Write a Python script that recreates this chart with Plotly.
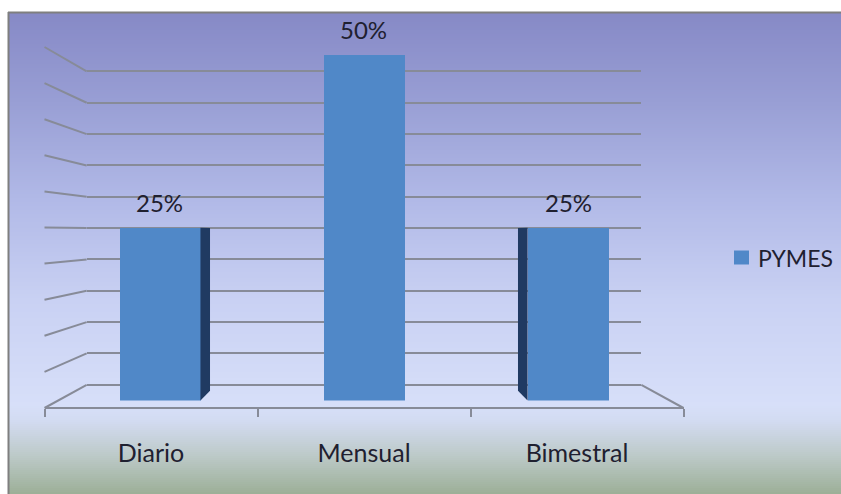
import plotly.graph_objects as go

# ---- data ----
categories = ["Diario", "Mensual", "Bimestral"]
pymes = [0.25, 0.50, 0.25]
wall_ticks = [0.0, 0.05, 0.10, 0.15, 0.20, 0.25, 0.30, 0.35, 0.40, 0.45, 0.50]
series_name = "PYMES"

# ---- canvas and simple perspective model ----
W, H = 841, 494
CX, VY = 364.0, 232.0        # vanishing point (px)
FLOOR = 176.0                # front floor edge below the horizon (px)
K = 722.0                    # px per unit value on the front plane
SLOT = 213.0                 # px per category on the front plane
S_FRONT, S_BACK = 1.0, 0.868 # depth scales of front edge and back wall
S_BAR_F, S_BAR_B = 0.958, 0.902
BAR_W = 0.397                # bar width in category units
Y_MAX = 0.5
PAD = 0.01                   # keeps the end gridlines inside the wall axis

FONT = "Lato"
TEXT = "#1f2030"
GRID = "#878b98"
BAR = "#5088c8"
BAR_SIDE = "#203a62"


def proj(X, v, s):
    """World point (horizontal offset X, value v, depth scale s) -> pixel."""
    return CX + s * X, VY + s * (FLOOR - K * v)


def px(x):
    return x / W


def py(y):
    return 1 - y / H


half = 1.5 * SLOT

# ---- gradient background ----
stops = [
    (12, (0x86, 0x89, 0xC6)),
    (100, (0x98, 0x9E, 0xD4)),
    (200, (0xB1, 0xB9, 0xE7)),
    (300, (0xC9, 0xD1, 0xF3)),
    (405, (0xD7, 0xDF, 0xF9)),
    (422, (0xD2, 0xDB, 0xF0)),
    (455, (0xBD, 0xCA, 0xC9)),
    (494, (0x9C, 0xAF, 0x97)),
]


def grad(y):
    for (y0, c0), (y1, c1) in zip(stops[:-1], stops[1:]):
        if y0 <= y <= y1:
            t = (y - y0) / (y1 - y0)
            return "rgb(%d,%d,%d)" % tuple(round(a + (b - a) * t) for a, b in zip(c0, c1))
    return "rgb(%d,%d,%d)" % stops[-1][1]


shapes = []
band = 2
y = 12
while y < H:
    shapes.append(dict(type="rect", xref="paper", yref="paper", layer="below",
                       x0=px(8), x1=1, y0=py(min(y + band, H)), y1=py(y),
                       fillcolor=grad(y + band / 2), line=dict(width=0)))
    y += band

# frame
shapes.append(dict(type="line", xref="paper", yref="paper", layer="below",
                   x0=px(8), x1=1, y0=py(12.5), y1=py(12.5),
                   line=dict(color="#7f7f7f", width=2)))
shapes.append(dict(type="line", xref="paper", yref="paper", layer="below",
                   x0=px(8.5), x1=px(8.5), y0=py(12), y1=0,
                   line=dict(color="#7f7f7f", width=2)))

# side wall lines, one per wall tick
for v in wall_ticks:
    xa, ya = proj(-half, v, S_FRONT)
    xb, yb = proj(-half, v, S_BACK)
    shapes.append(dict(type="line", xref="paper", yref="paper", layer="below",
                       x0=px(xa), y0=py(ya), x1=px(xb), y1=py(yb),
                       line=dict(color=GRID, width=2)))

# right edge of the floor
xa, ya = proj(half, 0, S_FRONT)
xb, yb = proj(half, 0, S_BACK)
shapes.append(dict(type="line", xref="paper", yref="paper", layer="below",
                   x0=px(xa), y0=py(ya), x1=px(xb), y1=py(yb),
                   line=dict(color=GRID, width=2)))

# visible side faces of the columns
for i, v in enumerate(pymes):
    Xc = (i - 1) * SLOT
    if Xc == 0:
        continue
    Xe = Xc + (BAR_W / 2) * SLOT * (1 if Xc < 0 else -1)
    pts = [proj(Xe, 0, S_BAR_F), proj(Xe, v, S_BAR_F),
           proj(Xe, v, S_BAR_B), proj(Xe, 0, S_BAR_B)]
    path = "M " + " L ".join("%.5f,%.5f" % (px(a), py(b)) for a, b in pts) + " Z"
    shapes.append(dict(type="path", xref="paper", yref="paper", layer="above",
                       path=path, fillcolor=BAR_SIDE, line=dict(width=0)))

# legend key
shapes.append(dict(type="rect", xref="paper", yref="paper", layer="above",
                   x0=px(734), x1=px(749), y0=py(264.5), y1=py(250.5),
                   fillcolor=BAR, line=dict(width=0)))

# ---- axis domains from the projection ----
back_x0, back_y0 = proj(-half, -PAD, S_BACK)
back_x1, back_y1 = proj(half, Y_MAX + PAD, S_BACK)
bar_x0, bar_y0 = proj(-half, 0, S_BAR_F)
bar_x1, bar_y1 = proj(half, Y_MAX, S_BAR_F)
fr_x0, fr_y0 = proj(-half, 0, S_FRONT)
fr_x1, _ = proj(half, 0, S_FRONT)

fig = go.Figure()

# back wall (gridlines only)
fig.add_trace(go.Scatter(x=[0], y=[0], xaxis="x", yaxis="y", mode="markers",
                         marker=dict(opacity=0), hoverinfo="skip", showlegend=False))
# columns
fig.add_trace(go.Bar(x=list(range(len(categories))), y=pymes, name=series_name,
                     xaxis="x2", yaxis="y2", width=BAR_W,
                     marker=dict(color=BAR, line=dict(width=0)),
                     hoverinfo="skip", showlegend=False))
# category axis on the front edge of the floor
fig.add_trace(go.Scatter(x=categories, y=[0] * len(categories), xaxis="x3", yaxis="y2",
                         mode="markers", marker=dict(opacity=0),
                         hoverinfo="skip", showlegend=False))

annotations = []
for i, v in enumerate(pymes):
    annotations.append(dict(x=i, y=v, xref="x2", yref="y2", text=f"{v:.0%}",
                            showarrow=False, yanchor="middle", yshift=25,
                            font=dict(family=FONT, size=24, color=TEXT)))
annotations.append(dict(x=px(756), y=py(257.5), xref="paper", yref="paper",
                        text=series_name, showarrow=False,
                        xanchor="left", yanchor="middle",
                        font=dict(family=FONT, size=23, color=TEXT)))

hidden = dict(showgrid=False, zeroline=False, showticklabels=False,
              showline=False, ticks="")

fig.update_layout(
    width=W, height=H,
    margin=dict(l=0, r=0, t=0, b=0),
    paper_bgcolor="white",
    plot_bgcolor="rgba(0,0,0,0)",
    shapes=shapes,
    annotations=annotations,
    xaxis=dict(domain=[px(back_x0), px(back_x1)], range=[-1, 1], **hidden),
    yaxis=dict(domain=[py(back_y0), py(back_y1)], range=[-PAD, Y_MAX + PAD],
               tickmode="array", tickvals=wall_ticks,
               showgrid=True, gridcolor=GRID, gridwidth=2,
               zeroline=False, showticklabels=False, showline=False, ticks=""),
    xaxis2=dict(domain=[px(bar_x0), px(bar_x1)], range=[-0.5, 2.5], anchor="y2", **hidden),
    yaxis2=dict(domain=[py(bar_y0), py(bar_y1)], range=[0, Y_MAX], anchor="x2", **hidden),
    xaxis3=dict(domain=[px(fr_x0), px(fr_x1)], type="category",
                categoryorder="array", categoryarray=categories,
                range=[-0.5, 2.5], anchor="free", position=py(fr_y0),
                showgrid=False, zeroline=False,
                showline=True, linecolor=GRID, linewidth=2,
                ticks="outside", tickson="boundaries", ticklen=8,
                tickwidth=2, tickcolor=GRID,
                tickfont=dict(family=FONT, size=25, color=TEXT),
                ticklabelstandoff=23),
    showlegend=False,
    bargap=0,
)

fig.write_html("out.html")
